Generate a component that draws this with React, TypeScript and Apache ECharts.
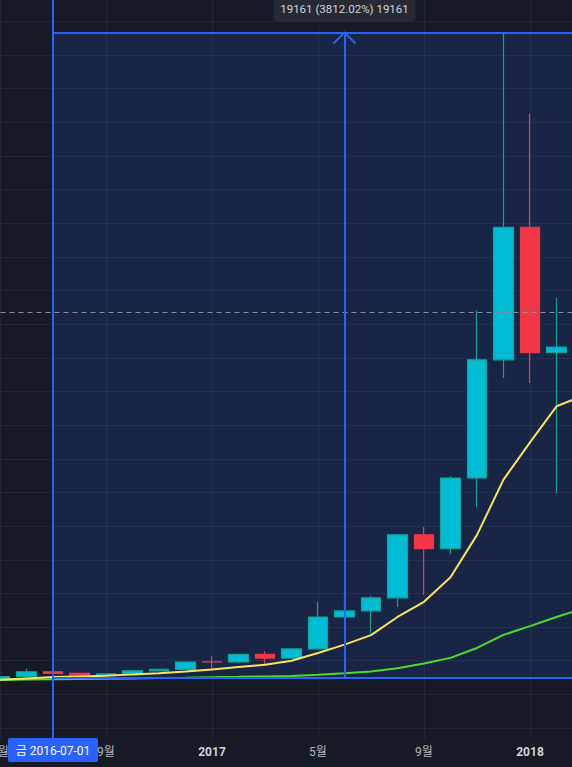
import React, { useEffect, useRef } from "react";
import * as echarts from "echarts";

// ---- data (monthly candles) ----
const months = [
  "2016-04", "2016-05", "2016-06", "2016-07", "2016-08", "2016-09", "2016-10", "2016-11",
  "2016-12", "2017-01", "2017-02", "2017-03", "2017-04", "2017-05", "2017-06", "2017-07",
  "2017-08", "2017-09", "2017-10", "2017-11", "2017-12", "2018-01", "2018-02", "2018-03",
];
const opens = [416, 448, 531, 673, 624, 574, 609, 700, 745, 968, 962, 1190, 1080, 1350, 2300, 2480, 2870, 4740, 4330, 6430, 9940, 13880, 10150, 10320];
const closes = [448, 531, 673, 624, 574, 609, 700, 745, 963, 962, 1190, 1080, 1350, 2300, 2480, 2870, 4740, 4330, 6430, 9940, 13880, 10150, 10320, 6930];
const lows = [412, 435, 515, 607, 500, 570, 605, 680, 740, 755, 920, 890, 1060, 1340, 2200, 1830, 2600, 2950, 4170, 5560, 9400, 9250, 5980, 6600];
const highs = [467, 550, 760, 703, 625, 630, 720, 760, 980, 1140, 1200, 1290, 1350, 2750, 2980, 2930, 4760, 4980, 6480, 11400, 19660, 17250, 11780, 11700];
const maFast = [420, 435, 475, 515, 535, 555, 595, 630, 680, 740, 815, 880, 1000, 1230, 1480, 1760, 2300, 2750, 3480, 4740, 6380, 7490, 8560, 8870];
const maSlow = [400, 425, 440, 450, 458, 466, 475, 485, 497, 510, 522, 535, 550, 585, 625, 680, 775, 920, 1085, 1380, 1770, 2030, 2300, 2550];

// ---- drawing-tool annotations ----
const rangeStartMonth = "2016-07";
const rangeArrowMonth = "2017-06";
const rangeEndMonth = "2018-03";
const rangeLow = 502.6;
const rangeHigh = 19664;
const crosshairPrice = 11361;
const measureText = "19161 (3812.02%) 19161";
const dateLabel = "금 2016-07-01";

const FONT = "Roboto, 'Noto Sans CJK KR', sans-serif";
const BLUE = "#2962ff";
const GRID_LINE = "rgba(255,255,255,0.06)";

const labelEvery = (index: number) => (index - 1) % 4 === 0;

export default function App() {
  const ref = useRef<HTMLDivElement>(null);

  useEffect(() => {
    if (!ref.current) return;
    const chart = echarts.init(ref.current, undefined, { renderer: "svg" });

    const candles = months.map((_, i) => [opens[i], closes[i], lows[i], highs[i]]);

    chart.setOption({
      animation: false,
      backgroundColor: "#161a25",
      grid: {
        left: -26.5,
        top: 0,
        width: 609.5,
        height: 739,
        containLabel: false,
        outerBoundsMode: "none",
      },
      xAxis: {
        type: "category",
        data: months,
        boundaryGap: false,
        axisLine: { show: false },
        axisTick: { show: false },
        axisLabel: {
          interval: labelEvery,
          margin: 7,
          color: "#b2b5be",
          fontSize: 12,
          fontFamily: FONT,
          formatter: (v: string) => {
            const [y, m] = v.split("-");
            if (m === "01") return `{y|${y}}`;
            return `${parseInt(m, 10)}월`;
          },
          rich: {
            y: { fontWeight: "bold", color: "#d1d4dc", fontSize: 12, fontFamily: FONT },
          },
        },
        splitLine: { show: true, interval: labelEvery, lineStyle: { color: GRID_LINE, width: 1 } },
      },
      yAxis: {
        type: "value",
        position: "right",
        min: -1325,
        max: 20631,
        splitNumber: 21,
        minInterval: 1000,
        maxInterval: 1000,
        axisLine: { show: false },
        axisTick: { show: false },
        axisLabel: { show: false },
        splitLine: {
          show: true,
          showMinLine: false,
          showMaxLine: false,
          lineStyle: { color: GRID_LINE, width: 1 },
        },
      },
      series: [
        {
          name: "range-area",
          type: "line",
          data: [],
          z: 1,
          silent: true,
          markArea: {
            silent: true,
            itemStyle: { color: "rgba(41,98,255,0.15)" },
            label: { show: false },
            data: [[{ coord: [rangeStartMonth, rangeHigh] }, { coord: [rangeEndMonth, rangeLow] }]],
          },
        },
        {
          name: "candles",
          type: "candlestick",
          data: candles,
          barWidth: 20,
          z: 3,
          silent: true,
          itemStyle: {
            color: "#00bcd4",
            color0: "#f23645",
            borderColor: "#0fa595",
            borderColor0: "#f23645",
            borderWidth: 1.2,
          },
        },
        {
          name: "MA slow",
          type: "line",
          data: maSlow,
          symbol: "none",
          z: 4,
          silent: true,
          lineStyle: { color: "#4cdd2a", width: 2 },
        },
        {
          name: "MA fast",
          type: "line",
          data: maFast,
          symbol: "none",
          z: 4,
          silent: true,
          lineStyle: { color: "#f7e65c", width: 2 },
        },
        {
          name: "range-lines",
          type: "line",
          data: [],
          z: 5,
          silent: true,
          markLine: {
            silent: true,
            symbol: ["none", "none"],
            label: { show: false },
            data: [
              {
                xAxis: rangeStartMonth,
                lineStyle: { color: BLUE, width: 2, type: "solid" },
              },
              {
                yAxis: crosshairPrice,
                lineStyle: { color: "#8a8f9c", width: 1, type: [5, 4] },
              },
              [
                { coord: [rangeStartMonth, rangeHigh], lineStyle: { color: BLUE, width: 2, type: "solid" } },
                { coord: [rangeEndMonth, rangeHigh] },
              ],
              [
                { coord: [rangeStartMonth, rangeLow], lineStyle: { color: BLUE, width: 2, type: "solid" } },
                { coord: [rangeEndMonth, rangeLow] },
              ],
              [
                { coord: [rangeArrowMonth, rangeLow], lineStyle: { color: BLUE, width: 2, type: "solid" } },
                { coord: [rangeArrowMonth, rangeHigh] },
              ],
            ],
          },
        },
      ],
    });

    const ap = chart.convertToPixel({ xAxisIndex: 0, yAxisIndex: 0 }, [rangeArrowMonth, rangeHigh]) as number[];
    const sp = chart.convertToPixel({ xAxisIndex: 0, yAxisIndex: 0 }, [rangeStartMonth, rangeLow]) as number[];
    const ax = ap[0];
    const ay = ap[1];
    const lx = sp[0];

    chart.setOption({
      graphic: [
        {
          type: "polyline",
          z: 50,
          silent: true,
          shape: { points: [[ax - 11, ay + 11], [ax, ay], [ax + 11, ay + 11]] },
          style: { stroke: BLUE, lineWidth: 2, fill: null },
        },
        {
          type: "group",
          z: 60,
          silent: true,
          children: [
            {
              type: "rect",
              shape: { x: ax - 71, y: -5, width: 142, height: 26, r: 4 },
              style: { fill: "#262a34" },
            },
            {
              type: "text",
              style: {
                x: ax,
                y: 9,
                text: measureText,
                fill: "#d1d4dc",
                font: `11.5px ${FONT}`,
                textAlign: "center",
                textVerticalAlign: "middle",
                verticalAlign: "middle",
              },
            },
          ],
        },
        {
          type: "group",
          z: 60,
          silent: true,
          children: [
            {
              type: "rect",
              shape: { x: lx - 45, y: 738, width: 90, height: 24, r: 2 },
              style: { fill: BLUE },
            },
            {
              type: "text",
              style: {
                x: lx,
                y: 751,
                text: dateLabel,
                fill: "#ffffff",
                font: `12px ${FONT}`,
                textAlign: "center",
                textVerticalAlign: "middle",
                verticalAlign: "middle",
              },
            },
          ],
        },
      ],
    });

    return () => chart.dispose();
  }, []);

  return (
    <div
      ref={ref}
      style={{ position: "fixed", left: 0, top: 0, width: 572, height: 767, background: "#161a25" }}
    />
  );
}
